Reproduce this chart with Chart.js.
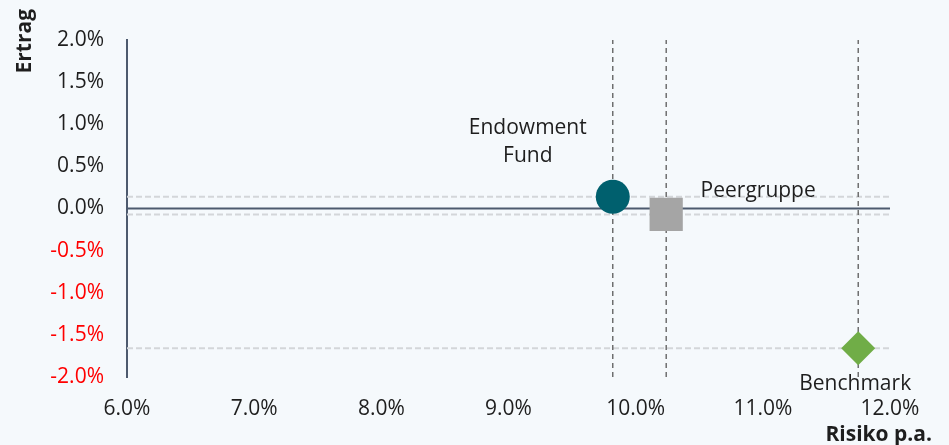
<!DOCTYPE html>
<html><head><meta charset="utf-8">
<script src="https://cdn.jsdelivr.net/npm/chart.js@4"></script>
<style>
html,body{margin:0;padding:0;background:#f5f9fc;}
#wrap{width:949px;height:445px;position:relative;}
</style></head>
<body><div id="wrap"><canvas id="c" width="949" height="445"></canvas></div>
<script>
const names = [["Endowment","Fund"], ["Peergruppe"], ["Benchmark"]];
const risk = [9.82, 10.24, 11.75];
const ret = [0.14, -0.07, -1.66];
const colors = ['#00606e', '#a5a5a5', '#70ad47'];
const shapes = ['circle', 'rect', 'rectRot'];
const radii = [17, 23.5, 17];
const xMin = 6, xMax = 12, xStep = 1;
const yMin = -2, yMax = 2, yStep = 0.5;
const xTitle = 'Risiko p.a.';
const yTitle = 'Ertrag';
const FONT = "'Open Sans'";
const FS = 21;

const datasets = [];
// points
for (let i = 0; i < names.length; i++) {
  datasets.push({
    type: 'scatter', order: 0, label: names[i].join(' '),
    data: [{x: risk[i], y: ret[i]}],
    pointStyle: shapes[i], pointRadius: radii[i], pointHoverRadius: radii[i],
    backgroundColor: colors[i], borderColor: colors[i], borderWidth: 0
  });
}
// zero line
datasets.push({type:'line', order: 3, data:[{x:xMin,y:0},{x:xMax,y:0}], borderColor:'#4d5a6e', borderWidth:2, pointRadius:0, fill:false});
// guide lines
for (let i = 0; i < names.length; i++) {
  datasets.push({type:'line', order: 2, data:[{x:risk[i],y:yMin},{x:risk[i],y:yMax}], borderColor:'#5a5a5a', borderWidth:1.3, borderDash:[5,4], pointRadius:0, fill:false});
  datasets.push({type:'line', order: 4, data:[{x:xMin,y:ret[i]},{x:xMax,y:ret[i]}], borderColor:'#d3d6d9', borderWidth:2, borderDash:[6,3], pointRadius:0, fill:false});
}

const labelOffsets = [[-85,-55],[92,-23],[-3,36]];

const labelPlugin = {
  id: 'labels',
  afterDatasetsDraw(chart) {
    const ctx = chart.ctx;
    ctx.save();
    ctx.font = FS + 'px ' + FONT;
    ctx.fillStyle = '#1e1e1e';
    ctx.textAlign = 'center';
    ctx.textBaseline = 'middle';
    for (let i = 0; i < names.length; i++) {
      const px = chart.scales.x.getPixelForValue(risk[i]);
      const py = chart.scales.y.getPixelForValue(ret[i]);
      const lines = names[i];
      const lh = 28;
      const cx = px + labelOffsets[i][0];
      const cy = py + labelOffsets[i][1];
      lines.forEach((t, k) => {
        ctx.fillText(t, cx, cy + (k - (lines.length - 1) / 2) * lh);
      });
    }
    // axis titles
    ctx.font = 'bold ' + FS + 'px ' + FONT;
    ctx.textAlign = 'right';
    ctx.fillText(xTitle, 932, 435);
    ctx.translate(25, 9);
    ctx.rotate(-Math.PI / 2);
    ctx.textAlign = 'right';
    ctx.fillText(yTitle, 0, 0);
    ctx.restore();
  }
};

new Chart(document.getElementById('c'), {
  data: { datasets },
  options: {
    responsive: false, animation: false,
    events: [],
    layout: { padding: { top: 40, right: 59, left: 0, bottom: 0 } },
    plugins: { legend: { display: false }, tooltip: { enabled: false } },
    scales: {
      x: {
        type: 'linear', min: xMin, max: xMax,
        grid: { display: false, drawTicks: false },
        border: { display: false },
        ticks: { stepSize: xStep, padding: 19, color: '#1e1e1e', font: { family: FONT, size: FS },
          callback: v => v.toFixed(1) + '%' },
        afterFit(s) { s.height = 68; }
      },
      y: {
        type: 'linear', min: yMin, max: yMax,
        grid: { display: false, drawTicks: false },
        border: { display: true, color: '#4d5a6e', width: 2 },
        ticks: { stepSize: yStep, padding: 23, font: { family: FONT, size: FS },
          color: c => c.tick.value < 0 ? '#ff0000' : '#1e1e1e',
          callback: v => v.toFixed(1) + '%' },
        afterFit(s) { s.width = 127; }
      }
    }
  },
  plugins: [labelPlugin]
});
</script></body></html>
